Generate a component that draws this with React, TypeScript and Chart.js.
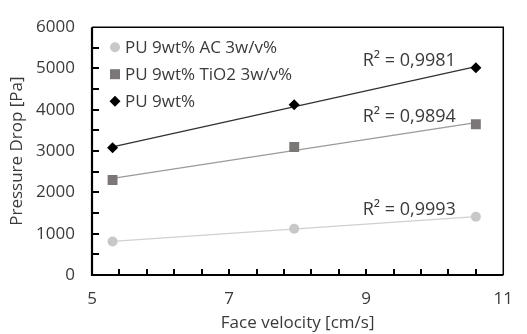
import React, { useEffect, useRef } from "react";
import { Chart, registerables } from "chart.js";

Chart.register(...registerables);

// ---- data ----
const velocity = [5.3, 7.95, 10.6];
const acValues = [810, 1120, 1410];
const tio2Values = [2300, 3100, 3650];
const puValues = [3080, 4120, 5020];
const seriesNames = ["PU 9wt% AC 3w/v%", "PU 9wt% TiO2 3w/v%", "PU 9wt%"];
const r2Labels = ["R² = 0,9993", "R² = 0,9894", "R² = 0,9981"];
const xTicks = [5, 7, 9, 11];
const yTicks = [0, 1000, 2000, 3000, 4000, 5000, 6000];
const xMinorStep = 0.4;
const yMinorStep = 500;

const FONT = "'Open Sans', 'Liberation Sans', sans-serif";
const TEXT = "#3a3a3a";

function fit(xs: number[], ys: number[]) {
  const n = xs.length;
  const mx = xs.reduce((a, b) => a + b, 0) / n;
  const my = ys.reduce((a, b) => a + b, 0) / n;
  let sxy = 0, sxx = 0;
  for (let i = 0; i < n; i++) {
    sxy += (xs[i] - mx) * (ys[i] - my);
    sxx += (xs[i] - mx) ** 2;
  }
  const b = sxy / sxx;
  const a = my - b * mx;
  const x0 = Math.min(...xs), x1 = Math.max(...xs);
  return [
    { x: x0, y: a + b * x0 },
    { x: x1, y: a + b * x1 },
  ];
}

const series = [
  { name: seriesNames[0], values: acValues, color: "#c8c8c8", line: "#d0d0d0", style: "circle", radius: 5 },
  { name: seriesNames[1], values: tio2Values, color: "#7b7777", line: "#9a9a9a", style: "rect", radius: 7 },
  { name: seriesNames[2], values: puValues, color: "#000000", line: "#303030", style: "rectRot", radius: 5.5 },
];

const framePlugin = {
  id: "frameAndExtras",
  afterDraw(chart: any) {
    const { ctx, chartArea: ca, scales } = chart;
    const xs = scales.x, ys = scales.y;
    ctx.save();
    // frame
    ctx.strokeStyle = "#000000";
    ctx.lineWidth = 1.5;
    ctx.beginPath();
    ctx.moveTo(ca.left, ca.top);
    ctx.lineTo(ca.right, ca.top);
    ctx.lineTo(ca.right, ca.bottom);
    ctx.stroke();
    ctx.lineWidth = 2.2;
    ctx.beginPath();
    ctx.moveTo(ca.left, ca.top);
    ctx.lineTo(ca.left, ca.bottom);
    ctx.lineTo(ca.right, ca.bottom);
    ctx.stroke();
    // inward ticks
    ctx.fillStyle = "#000000";
    for (let k = 1; k * yMinorStep < 6000; k++) {
      const y = Math.round(ys.getPixelForValue(k * yMinorStep));
      ctx.fillRect(ca.left, y - 1, 7, 2);
    }
    for (let k = 1; 5 + k * xMinorStep < 11 - 1e-6; k++) {
      const x = Math.round(xs.getPixelForValue(5 + k * xMinorStep));
      ctx.fillRect(x - 1, ca.bottom - 6, 2, 6);
    }

    // legend
    ctx.font = `17px ${FONT}`;
    ctx.textBaseline = "middle";
    ctx.textAlign = "left";
    series.forEach((s, i) => {
      const cy = ca.top + 20 + i * 27;
      const cx = ca.left + 23;
      ctx.fillStyle = s.color;
      ctx.beginPath();
      if (s.style === "circle") {
        ctx.arc(cx, cy, 5, 0, Math.PI * 2);
      } else if (s.style === "rect") {
        ctx.rect(cx - 5, cy - 5, 10, 10);
      } else {
        ctx.moveTo(cx - 5.5, cy);
        ctx.lineTo(cx, cy - 5.5);
        ctx.lineTo(cx + 5.5, cy);
        ctx.lineTo(cx, cy + 5.5);
        ctx.closePath();
      }
      ctx.fill();
      ctx.fillStyle = TEXT;
      ctx.fillText(s.name, cx + 10, cy + 1);
    });

    // R² labels
    ctx.font = `18px ${FONT}`;
    ctx.textAlign = "right";
    ctx.textBaseline = "alphabetic";
    series.forEach((s, i) => {
      const n = s.values.length - 1;
      const px = xs.getPixelForValue(velocity[n]);
      const py = ys.getPixelForValue(s.values[n]);
      ctx.fillStyle = TEXT;
      ctx.fillText(r2Labels[i], px - 20, py - 2);
    });
    ctx.restore();
  },
};

export default function App() {
  const ref = useRef<HTMLCanvasElement>(null);
  useEffect(() => {
    document.body.style.margin = "0";
    const datasets: any[] = [];
    series.forEach((s) => {
      datasets.push({
        label: s.name + " trend",
        data: fit(velocity, s.values),
        showLine: true,
        borderColor: s.line,
        borderWidth: 1.2,
        pointRadius: 0,
        order: 2,
      });
    });
    series.forEach((s) => {
      datasets.push({
        label: s.name,
        data: velocity.map((x, i) => ({ x, y: s.values[i] })),
        showLine: false,
        pointStyle: s.style,
        pointRadius: s.radius,
        pointBackgroundColor: s.color,
        pointBorderColor: s.color,
        pointBorderWidth: 0,
        order: 1,
      });
    });
    const chart = new Chart(ref.current!, {
      type: "scatter",
      data: { datasets },
      plugins: [framePlugin],
      options: {
        animation: false,
        responsive: false,
        layout: { padding: { top: 20, right: 11, left: 0, bottom: 0 } },
        plugins: { legend: { display: false }, tooltip: { enabled: false } },
        scales: {
          x: {
            type: "linear",
            min: 5,
            max: 11,
            afterBuildTicks: (sc: any) => { sc.ticks = xTicks.map((v) => ({ value: v })); },
            afterFit: (sc: any) => { sc.height = 59; },
            grid: { display: false, drawTicks: false },
            border: { display: false },
            ticks: { color: TEXT, font: { family: FONT, size: 17 }, padding: 14, maxRotation: 0, callback: (v: any) => String(v) },
            title: { display: true, text: "Face velocity [cm/s]", color: TEXT, font: { family: FONT, size: 17 }, padding: { top: 0, bottom: 1 } },
          },
          y: {
            type: "linear",
            min: 0,
            max: 6000,
            afterBuildTicks: (sc: any) => { sc.ticks = yTicks.map((v) => ({ value: v })); },
            afterFit: (sc: any) => { sc.width = 92; },
            grid: { display: false, drawTicks: false },
            border: { display: false },
            ticks: { color: TEXT, font: { family: FONT, size: 17 }, padding: 17, callback: (v: any) => String(v) },
            title: { display: true, text: "Pressure Drop [Pa]", color: TEXT, font: { family: FONT, size: 17 }, padding: { top: 7, bottom: 0 } },
          },
        },
      } as any,
    });
    return () => chart.destroy();
  }, []);
  return <canvas ref={ref} width={527} height={334} style={{ display: "block" }} />;
}
